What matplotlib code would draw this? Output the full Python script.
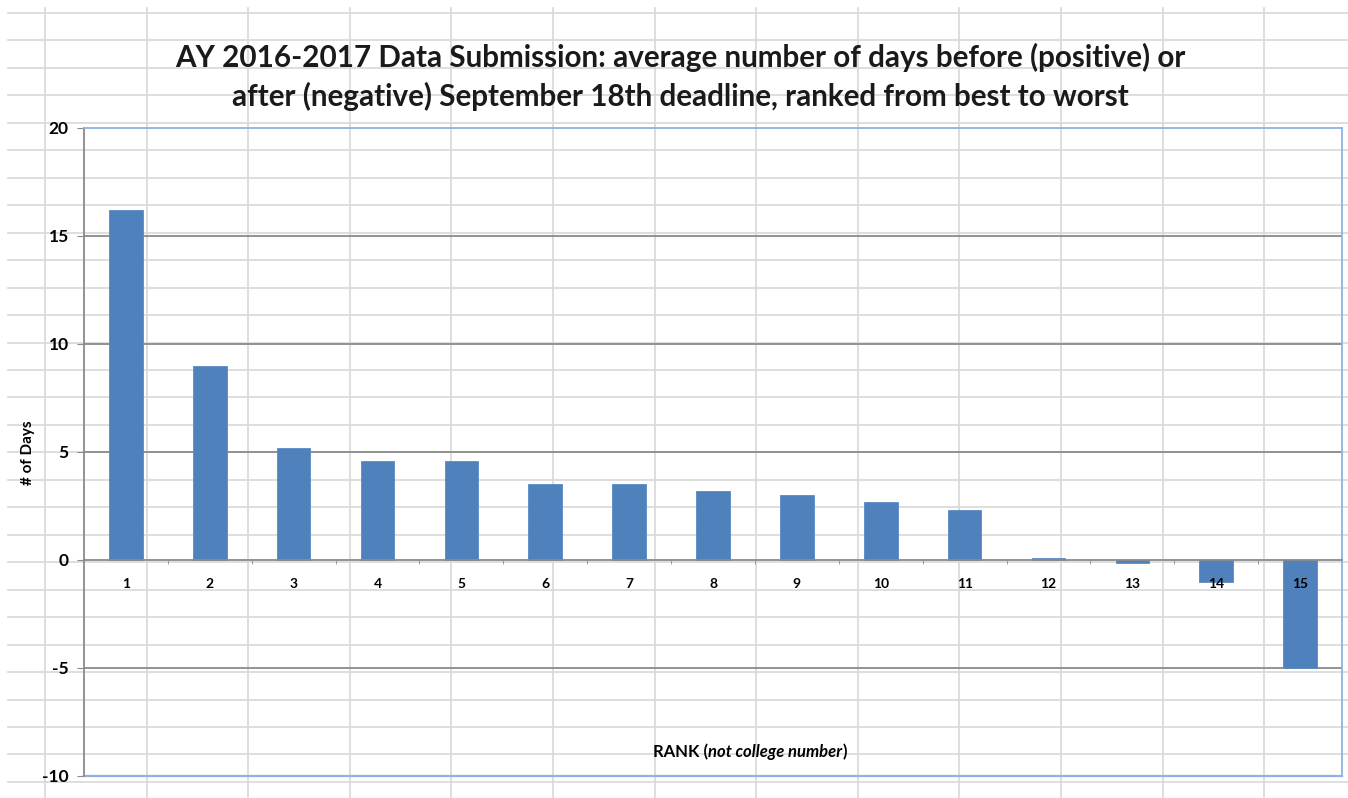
import matplotlib.pyplot as plt
from matplotlib.lines import Line2D
import numpy as np

plt.rcParams['font.family'] = ['Lato', 'DejaVu Sans']
plt.rcParams['font.weight'] = 'bold'

ranks = list(range(1, 16))
dias = [16.2, 9.0, 5.2, 4.6, 4.6, 3.5, 3.5, 3.2, 3.0, 2.7, 2.3, 0.1, -0.15, -1.0, -5.0]
yticks = [-10, -5, 0, 5, 10, 15, 20]

titulo = ('AY 2016-2017 Data Submission: average number of days before (positive) or\n'
          'after (negative) September 18th deadline, ranked from best to worst')

W, H = 1348, 798
fig = plt.figure(figsize=(W / 100, H / 100), dpi=100)
fig.patch.set_facecolor('white')

# Fondo tipo hoja de cálculo.
gris_celda = '#d8d8d8'
for y in np.arange(13, 790, 27.46):
    fig.add_artist(Line2D([8 / W, 1], [1 - y / H] * 2, color=gris_celda, lw=1.2, zorder=0))
for x in np.arange(45, W, 101.6):
    fig.add_artist(Line2D([x / W] * 2, [0, 1 - 8 / H], color=gris_celda, lw=1.2, zorder=0))

ax = fig.add_axes([84 / W, 1 - 776 / H, 1258 / W, 648 / H])
ax.set_facecolor('none')

ax.bar(ranks, dias, width=0.4, color='#4F81BD', edgecolor='#5a8ac4', lw=0.6, zorder=2)

ax.set_xlim(0.5, 15.5)
ax.set_ylim(-10, 20)
ax.set_yticks(yticks)
ax.set_yticklabels([str(v) for v in yticks], fontsize=12.5)
for v in yticks:
    if v not in (-10, 0, 20):
        ax.axhline(v, color='#8a8a8a', lw=1.3, zorder=1)

ax.set_xticks(ranks)
ax.set_xticklabels([str(r) for r in ranks], fontsize=12.5)
ax.set_xticks(np.arange(1.5, 15.5, 1), minor=True)
ax.tick_params(axis='x', which='major', length=0, pad=13)
ax.tick_params(axis='x', which='minor', length=3, color='#8a8a8a', direction='out')
ax.tick_params(axis='y', length=5, color='#8a8a8a', direction='out', pad=6)
ax.xaxis.set_zorder(5)

# Eje X en cero (gris); el borde azul va abajo en -10.
ax.spines['bottom'].set_position(('data', 0))
ax.spines['bottom'].set_color('#8a8a8a')
ax.spines['bottom'].set_linewidth(1.3)
ax.spines['bottom'].set_zorder(4)
ax.spines['left'].set_color('#8a8a8a')
ax.spines['left'].set_linewidth(1.3)
for s in ('top', 'right'):
    ax.spines[s].set_color('#8db3e2')
    ax.spines[s].set_linewidth(1.3)
ax.axhline(-10, color='#8db3e2', lw=1.6, clip_on=False, zorder=2)

fig.text(680 / W, 1 - 77 / H, titulo, ha='center', va='center', fontsize=21.3,
         fontweight='bold', linespacing=1.4, color='#1a1a1a')

fig.text(28 / W, 1 - 453 / H, '# of Days', rotation=90, ha='center', va='center',
         fontsize=11, fontweight='bold')

t1 = fig.text(653 / W, 1 - 752 / H, 'RANK (', ha='left', va='center', fontsize=12,
              fontweight='bold')
t2 = ax.annotate('not college number', xy=(1, 0.5), xycoords=t1, ha='left', va='center',
                 fontsize=12, fontweight='bold', fontstyle='italic')
ax.annotate(')', xy=(1, 0.5), xycoords=t2, ha='left', va='center', fontsize=12,
            fontweight='bold')

fig.savefig('out.png', dpi=100)
